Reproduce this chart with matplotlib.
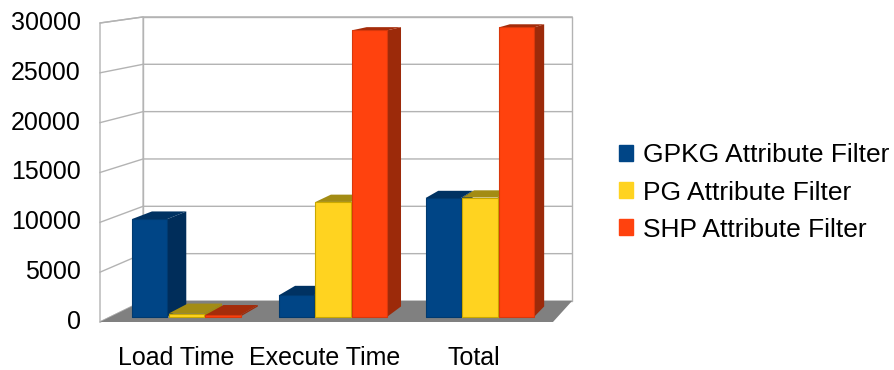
#!/usr/bin/env python3
"""
Attribute filter timing chart (3D-style grouped bars)
"""

import matplotlib
matplotlib.use('Agg')
import matplotlib.pyplot as plt
from matplotlib.patches import Polygon, Patch

plt.rcParams['font.family'] = ['Liberation Sans', 'DejaVu Sans']

categories = ['Load Time', 'Execute Time', 'Total']
series_names = ['GPKG Attribute Filter', 'PG Attribute Filter', 'SHP Attribute Filter']
gpkg_ms = [9900, 2150, 12050]
pg_ms = [300, 11650, 12100]
shp_ms = [150, 29100, 29400]
y_ticks = [0, 5000, 10000, 15000, 20000, 25000, 30000]

# front / side / top shades for each series
front_colors = ['#004586', '#ffd320', '#ff420e']
side_colors = ['#002d5a', '#a08a12', '#9c2a0a']
top_colors = ['#003262', '#a38c14', '#a42c0a']
edge_colors = ['#003a70', '#c9a800', '#d8380c']

# oblique projection: depth d in [0, 1] goes up and to the right
DEPTH_DY = 2107
SHRINK = 0.05
X_LEFT, X_RIGHT = -0.51, 2.53
BAR_W = 0.24
BAR_STEP = 0.25
D0, D1 = 0.26, 0.74


def proj(c, v, d):
    return (c + d * (0.262 - 0.053 * c), v + d * (DEPTH_DY - SHRINK * v))


def quad(ax, pts, fc, ec=None, lw=0.0, z=1):
    ax.add_patch(Polygon([proj(*p) for p in pts], closed=True, facecolor=fc,
                         edgecolor=ec if ec else fc, linewidth=lw, zorder=z,
                         joinstyle='round'))


fig = plt.figure(figsize=(8.95, 3.7), dpi=100)
ax = fig.add_axes([0, 0, 1, 1])
ax.set_xlim(-176 / 149, (895 - 176) / 149)
ax.set_ylim(-48 * 100.33, 322 * 100.33)
ax.axis('off')

top = y_ticks[-1]
grid_c = '#b3b3b3'

# walls
quad(ax, [(X_LEFT, 0, 1), (X_RIGHT, 0, 1), (X_RIGHT, top, 1), (X_LEFT, top, 1)],
     'white', grid_c, 1.0, z=0)
quad(ax, [(X_LEFT, 0, 0), (X_LEFT, 0, 1), (X_LEFT, top, 1), (X_LEFT, top, 0)],
     'white', grid_c, 1.0, z=0)

for v in y_ticks:
    xs, ys = zip(proj(X_LEFT, v, 0), proj(X_LEFT, v, 1), proj(X_RIGHT, v, 1))
    ax.plot(xs, ys, color=grid_c, lw=1.0, zorder=0.5)
    fx, fy = proj(X_LEFT, v, 0)
    ax.annotate(f'{v}', (fx, fy), xytext=(-14, 0), textcoords='offset points',
                ha='right', va='center', fontsize=18, color='black')

# floor
quad(ax, [(X_LEFT, 0, 0), (X_RIGHT, 0, 0), (X_RIGHT, 0, 1), (X_LEFT, 0, 1)],
     '#808080', z=1)

# bars, drawn left to right so later fronts cover earlier side faces
series = [gpkg_ms, pg_ms, shp_ms]
for ci in range(len(categories)):
    for si, vals in enumerate(series):
        v = vals[ci]
        x0 = ci + (si - 1) * BAR_STEP - BAR_W / 2
        x1 = x0 + BAR_W
        quad(ax, [(x1, 0, D0), (x1, 0, D1), (x1, v, D1), (x1, v, D0)],
             side_colors[si], z=2)
        quad(ax, [(x0, v, D0), (x1, v, D0), (x1, v, D1), (x0, v, D1)],
             top_colors[si], z=2)
        quad(ax, [(x0, 0, D0), (x1, 0, D0), (x1, v, D0), (x0, v, D0)],
             front_colors[si], edge_colors[si], 0.8, z=2)

for ci, name in enumerate(categories):
    ax.annotate(name, (ci, 0), xytext=(0, -26), textcoords='offset points',
                ha='center', va='center', fontsize=18, color='black')

handles = [Patch(facecolor=c, edgecolor=c) for c in front_colors]
fig.legend(handles, series_names, loc='center left',
           bbox_to_anchor=(619 / 895, 1 - 192.5 / 370), frameon=False,
           fontsize=19, handlelength=0.54, handleheight=0.54,
           handletextpad=0.36, labelspacing=0.5, borderpad=0, borderaxespad=0)

fig.savefig('out.png', dpi=100)
